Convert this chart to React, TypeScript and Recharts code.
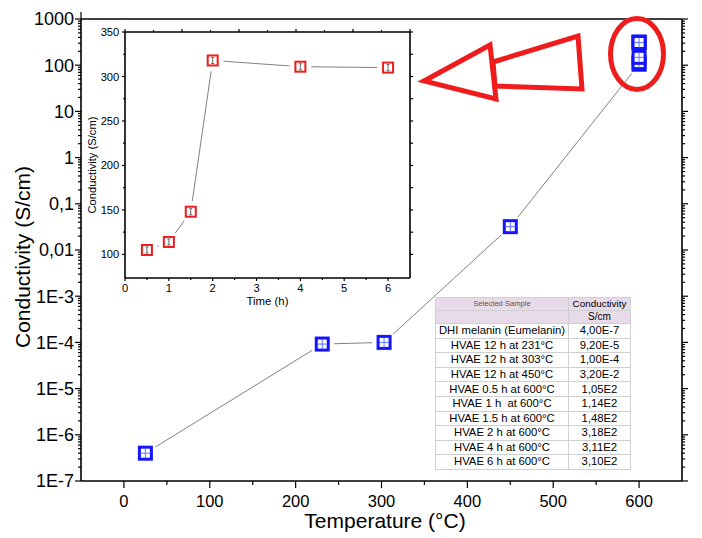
import { ComposedChart, Line, Scatter, XAxis, YAxis } from 'recharts'

// main plot: conductivity vs annealing temperature (the six 600 °C points are the time series of the inset)
const temperatures = [25, 231, 303, 450, 600, 600, 600, 600, 600, 600]
const conductivity = [4.0e-7, 9.2e-5, 1.0e-4, 3.2e-2, 105, 114, 148, 318, 311, 310]
const sampleNames = [
  'DHI melanin (Eumelanin)',
  'HVAE 12 h at 231°C',
  'HVAE 12 h at 303°C',
  'HVAE 12 h at 450°C',
  'HVAE 0.5 h at 600°C',
  'HVAE 1 h  at 600°C',
  'HVAE 1.5 h at 600°C',
  'HVAE 2 h at 600°C',
  'HVAE 4 h at 600°C',
  'HVAE 6 h at 600°C',
]

// inset: conductivity vs time at 600 °C
const hours = [0.5, 1, 1.5, 2, 4, 6]
const hourConductivity = [105, 114, 148, 318, 311, 310]

const logTicks = [1e-7, 1e-6, 1e-5, 1e-4, 1e-3, 0.01, 0.1, 1, 10, 100, 1000]
const logTickLabels = ['1E-7', '1E-6', '1E-5', '1E-4', '1E-3', '0,01', '0,1', '1', '10', '100', '1000']
const tempTicks = [0, 100, 200, 300, 400, 500, 600]
const tempMinor = [50, 150, 250, 350, 450, 550]
const hourTicks = [0, 1, 2, 3, 4, 5, 6]
const hourMinor = [0.5, 1.5, 2.5, 3.5, 4.5, 5.5]
const insetTicks = [100, 150, 200, 250, 300, 350]
const insetMinor = [125, 175, 225, 275, 325]

const logMinor = logTicks.slice(0, -1).flatMap(d => [2, 3, 4, 5, 6, 7, 8, 9].map(m => d * m))

const FONT = '"Liberation Sans", Arial, sans-serif'
const BLUE = '#1414ff'
const RED = '#ee1c1c'

const mainData = temperatures.map((t, i) => ({ t, c: conductivity[i] }))
const insetData = hours.map((h, i) => ({ h, c: hourConductivity[i] }))

const fmtValue = (v: number) => v.toExponential(2).replace('.', ',').replace('e+', 'E').replace('e', 'E')

type Side = 'left' | 'right' | 'top' | 'bottom'

// one tick renderer for all four frame sides: long ticks on majors, short on minors
const tickRenderer = (side: Side, majors: number[], labels: string[] | null, big: number, small: number, font = 12, gap = 0) =>
  (props: any) => {
    const { x, y, payload } = props
    const i = majors.indexOf(payload.value)
    const len = i >= 0 ? big : small
    const sx = side === 'left' ? -1 : side === 'right' ? 1 : 0
    const sy = side === 'top' ? -1 : side === 'bottom' ? 1 : 0
    const text = labels && i >= 0 ? labels[i] : null
    return (
      <g>
        <line x1={x} y1={y} x2={x + sx * len} y2={y + sy * len} stroke="#000" strokeWidth={1.2} />
        {text && side === 'left' && (
          <text x={x - len - gap} y={y} dy="0.36em" textAnchor="end" fontSize={font} fontFamily={FONT} fill="#000">{text}</text>
        )}
        {text && side === 'bottom' && (
          <text x={x} y={y + gap} textAnchor="middle" fontSize={font} fontFamily={FONT} fill="#000">{text}</text>
        )}
      </g>
    )
  }

const frame = { stroke: '#000', strokeWidth: 1.6 }

const BlueSquare = ({ cx, cy }: any) => {
  if (cx == null || cy == null) return null
  return (
    <g>
      <rect x={cx - 6} y={cy - 6} width={12} height={12} fill="#fff" stroke={BLUE} strokeWidth={3} />
      <line x1={cx - 5} x2={cx + 5} y1={cy} y2={cy} stroke="#6070ff" strokeWidth={1} />
      <line x1={cx} x2={cx} y1={cy - 5} y2={cy + 5} stroke="#6070ff" strokeWidth={1} />
    </g>
  )
}

const RedSquare = ({ cx, cy }: any) => {
  if (cx == null || cy == null) return null
  return (
    <g>
      <rect x={cx - 5} y={cy - 5} width={10} height={10} fill="#fff" stroke={RED} strokeWidth={2} />
      <line x1={cx} x2={cx} y1={cy - 3} y2={cy + 3} stroke="#444" strokeWidth={0.8} />
      <line x1={cx - 1.5} x2={cx + 1.5} y1={cy - 3} y2={cy - 3} stroke="#444" strokeWidth={0.8} />
      <line x1={cx - 1.5} x2={cx + 1.5} y1={cy + 3} y2={cy + 3} stroke="#444" strokeWidth={0.8} />
    </g>
  )
}

// white discs under the markers so the connecting line stops short of them
const halo = (r: number) => ({ cx, cy }: any) => (cx == null || cy == null ? null : <circle cx={cx} cy={cy} r={r} fill="#fff" />)

const yTitle = (text: string, size: number, dx: number, dy: number) => (p: any) => {
  const vb = p.viewBox
  const cx = vb.x + dx
  const cy = vb.y + vb.height / 2 + dy
  return (
    <text x={cx} y={cy} transform={`rotate(-90 ${cx} ${cy})`} textAnchor="middle" dominantBaseline="central" fontSize={size} fontFamily={FONT} fill="#000">
      {text}
    </text>
  )
}

const xTitle = (text: string, size: number, dx: number, baseline: number) => (p: any) => {
  const vb = p.viewBox
  return (
    <text x={vb.x + vb.width / 2 + dx} y={vb.y + baseline} textAnchor="middle" fontSize={size} fontFamily={FONT} fill="#000">
      {text}
    </text>
  )
}

function Inset() {
  return (
    <div style={{ position: 'absolute', left: 84, top: 20 }}>
      <ComposedChart width={340} height={292} data={insetData} margin={{ top: 0, right: 0, bottom: 0, left: 0 }}>
        <XAxis xAxisId="b" dataKey="h" type="number" domain={[0, 6.5]} allowDataOverflow ticks={[...hourTicks, ...hourMinor]} interval={0}
          tickSize={0} tickMargin={0} height={34} axisLine={frame} tickLine={false}
          tick={tickRenderer('bottom', hourTicks, hourTicks.map(String), 3, 2, 11.2, 13.7)}
          label={xTitle('Time (h)', 11.4, 0, 27)} />
        <XAxis xAxisId="t" orientation="top" type="number" domain={[0, 6.5]} allowDataOverflow ticks={[...hourTicks, ...hourMinor]} interval={0}
          tickSize={0} tickMargin={0} height={12} axisLine={frame} tickLine={false}
          tick={tickRenderer('top', hourTicks, null, 3, 2)} />
        <YAxis yAxisId="l" type="number" domain={[73.5, 350]} allowDataOverflow ticks={[...insetTicks, ...insetMinor]} interval={0}
          tickSize={0} tickMargin={0} width={41} axisLine={frame} tickLine={false}
          tick={tickRenderer('left', insetTicks, insetTicks.map(String), 3, 2, 11.2, 2.7)}
          label={yTitle('Conductivity (S/cm)', 11.2, 8, 10)} />
        <YAxis yAxisId="r" orientation="right" type="number" domain={[73.5, 350]} allowDataOverflow ticks={[...insetTicks, ...insetMinor]} interval={0}
          tickSize={0} tickMargin={0} width={14} axisLine={frame} tickLine={false}
          tick={tickRenderer('right', insetTicks, null, 3, 3)} />
        <Line xAxisId="b" yAxisId="l" dataKey="c" type="linear" stroke="#808080" strokeWidth={1} dot={false} isAnimationActive={false} />
        <Scatter xAxisId="b" yAxisId="l" dataKey="c" shape={halo(11)} isAnimationActive={false} />
        <Scatter xAxisId="b" yAxisId="l" dataKey="c" shape={RedSquare} isAnimationActive={false} />
      </ComposedChart>
    </div>
  )
}

const cell: React.CSSProperties = {
  border: '1px solid #d0d0d0',
  padding: 0,
  textAlign: 'center',
  lineHeight: 1,
  whiteSpace: 'pre',
  overflow: 'hidden',
}
const head: React.CSSProperties = { ...cell, background: '#e7dbe9' }

function SampleTable() {
  return (
    <div style={{ position: 'absolute', left: 435, top: 297, fontFamily: FONT, color: '#000' }}>
      <table style={{ borderCollapse: 'collapse', tableLayout: 'fixed', width: 195, border: '1px solid #8c8c8c', background: '#fff' }}>
        <colgroup>
          <col style={{ width: 133 }} />
          <col style={{ width: 62 }} />
        </colgroup>
        <tbody>
          <tr style={{ height: 13.4 }}>
            <td style={{ ...head, fontSize: 7.6, color: '#555' }}>Selected Sample</td>
            <td style={{ ...head, fontSize: 9.9 }}>Conductivity</td>
          </tr>
          <tr style={{ height: 12.6 }}>
            <td style={head}></td>
            <td style={{ ...head, fontSize: 10 }}>S/cm</td>
          </tr>
          {sampleNames.map((name, i) => (
            <tr key={name} style={{ height: 14.6 }}>
              <td style={{ ...cell, fontSize: 11.3 }}>{name}</td>
              <td style={{ ...cell, fontSize: 11.3 }}>{fmtValue(conductivity[i])}</td>
            </tr>
          ))}
        </tbody>
      </table>
    </div>
  )
}

function Annotations() {
  return (
    <svg width={702} height={538} style={{ position: 'absolute', left: 0, top: 0, pointerEvents: 'none' }}>
      <ellipse cx={637} cy={54} rx={26.5} ry={35.5} fill="none" stroke={RED} strokeWidth={5} />
      <polygon points="424,81 490,45 496,99" fill="none" stroke={RED} strokeWidth={5} strokeLinejoin="miter" />
      <polygon points="493,62 578,36 582,89 495,86" fill="none" stroke={RED} strokeWidth={5} strokeLinejoin="miter" />
    </svg>
  )
}

export default function App() {
  return (
    <div style={{ position: 'absolute', left: 0, top: 0, width: 702, height: 538, background: '#fff', fontFamily: FONT }}>
      <ComposedChart width={702} height={538} data={mainData} margin={{ top: 0, right: 0, bottom: 0, left: 0 }}>
        <XAxis xAxisId="b" dataKey="t" type="number" domain={[-50, 650]} allowDataOverflow ticks={[...tempTicks, ...tempMinor]} interval={0}
          tickSize={0} tickMargin={0} height={57} axisLine={frame} tickLine={false}
          tick={tickRenderer('bottom', tempTicks, tempTicks.map(String), 7, 4, 16.5, 26)}
          label={xTitle('Temperature (°C)', 21, 3.5, 47)} />
        <XAxis xAxisId="t" orientation="top" type="number" domain={[-50, 650]} allowDataOverflow ticks={[...tempTicks, ...tempMinor]} interval={0}
          tickSize={0} tickMargin={0} height={19} axisLine={frame} tickLine={false}
          tick={tickRenderer('top', tempTicks, null, 7, 4)} />
        <YAxis yAxisId="l" type="number" scale="log" domain={[1e-7, 1000]} allowDataOverflow ticks={[...logTicks, ...logMinor]} interval={0}
          tickSize={0} tickMargin={0} width={81} axisLine={frame} tickLine={false}
          tick={tickRenderer('left', logTicks, logTickLabels, 6, 3, 18, 1)}
          label={yTitle('Conductivity (S/cm)', 21, 22, 7)} />
        <YAxis yAxisId="r" orientation="right" type="number" scale="log" domain={[1e-7, 1000]} allowDataOverflow ticks={[...logTicks, ...logMinor]} interval={0}
          tickSize={0} tickMargin={0} width={20} axisLine={frame} tickLine={false}
          tick={tickRenderer('right', logTicks, null, 6, 3)} />
        <Line xAxisId="b" yAxisId="l" dataKey="c" type="linear" stroke="#808080" strokeWidth={1} dot={false} isAnimationActive={false} />
        <Scatter xAxisId="b" yAxisId="l" dataKey="c" shape={halo(12)} isAnimationActive={false} />
        <Scatter xAxisId="b" yAxisId="l" dataKey="c" shape={BlueSquare} isAnimationActive={false} />
      </ComposedChart>
      <Inset />
      <SampleTable />
      <Annotations />
    </div>
  )
}
